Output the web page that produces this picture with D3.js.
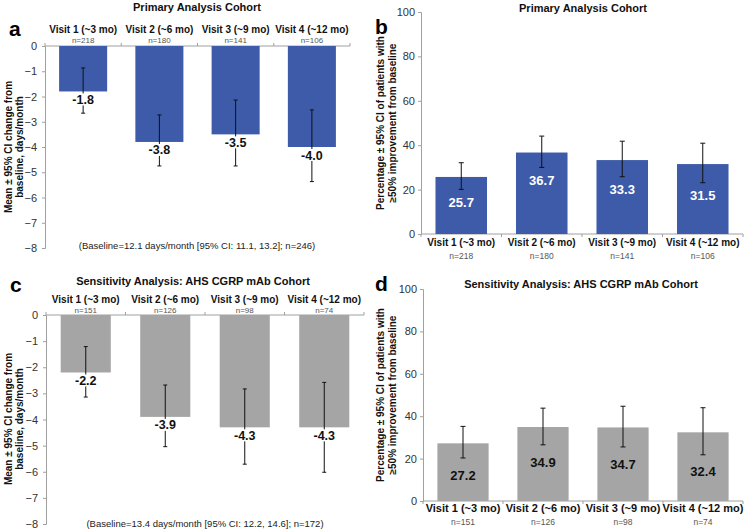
<!DOCTYPE html>
<html>
<head>
<meta charset="utf-8">
<script src="https://cdn.jsdelivr.net/npm/d3@7"></script>
<style>
    body { margin: 0; background: #fff; }
    svg { font-family: "Liberation Sans", Arial, sans-serif; }
</style>
</head>
<body>
<div id="chart"></div>
<script>
// 数据
const visits = ['Visit 1 (~3 mo)', 'Visit 2 (~6 mo)', 'Visit 3 (~9 mo)', 'Visit 4 (~12 mo)'];
const primaryN = [218, 180, 141, 106];
const sensN = [151, 126, 98, 74];

const primaryChange = [-1.8, -3.8, -3.5, -4.0];
const primaryChangeLo = [-2.66, -4.75, -4.75, -5.37];
const primaryChangeHi = [-0.87, -2.73, -2.14, -2.53];

const sensChange = [-2.2, -3.9, -4.3, -4.3];
const sensChangeLo = [-3.14, -5.04, -5.71, -6.02];
const sensChangeHi = [-1.21, -2.68, -2.83, -2.58];

const primaryPct = [25.7, 36.7, 33.3, 31.5];
const primaryPctLo = [20.1, 30.0, 25.8, 23.1];
const primaryPctHi = [32.1, 44.1, 41.8, 40.9];

const sensPct = [27.2, 34.9, 34.7, 32.4];
const sensPctLo = [20.3, 26.5, 25.5, 21.8];
const sensPctHi = [35.2, 43.8, 44.7, 44.0];

const changeTicks = [0, -1, -2, -3, -4, -5, -6, -7, -8];
const pctTicks = [0, 20, 40, 60, 80, 100];

const blue = '#3d5ba9';
const gray = '#a5a5a5';
const axisColor = '#a0a0a0';

const svg = d3.select('#chart').append('svg')
    .attr('width', 746)
    .attr('height', 530);

// 把几个数组拼成一组行
function rows(n, mean, lo, hi) {
    return visits.map((v, i) => ({visit: v, n: n[i], mean: mean[i], lo: lo[i], hi: hi[i]}));
}

function letter(t, x, y) {
    svg.append('text').attr('x', x).attr('y', y)
        .attr('font-size', 21).attr('font-weight', 'bold').text(t);
}

function title(t, x, y) {
    svg.append('text').attr('x', x).attr('y', y).attr('text-anchor', 'middle')
        .attr('font-size', 11).attr('font-weight', 'bold').attr('fill', '#111').text(t);
}

function yTitle(lines, x1, x2, cy) {
    [x1, x2].forEach((x, i) => {
        svg.append('text')
            .attr('transform', `translate(${x},${cy}) rotate(-90)`)
            .attr('text-anchor', 'middle')
            .attr('dominant-baseline', 'central')
            .attr('font-size', 10).attr('font-weight', 'bold').attr('fill', '#111')
            .text(lines[i]);
    });
}

function styleAxis(g) {
    g.select('.domain').attr('stroke', axisColor);
    g.selectAll('.tick line').attr('stroke', axisColor);
    g.selectAll('.tick text').attr('font-size', 11).attr('fill', '#333')
        .attr('font-family', '"Liberation Sans", Arial, sans-serif');
}

/*
 * 变化量面板 (a, c) —— 柱子向下
 */
function drawChange(cfg) {
    const data = rows(cfg.n, cfg.mean, cfg.lo, cfg.hi);
    const x = d3.scaleBand().domain(visits).range(cfg.xr).paddingInner(0.37).paddingOuter(0.185);
    const y = d3.scaleLinear().domain([0, -8]).range(cfg.yr);

    const ga = svg.append('g').attr('transform', `translate(${cfg.xr[0]},0)`)
        .call(d3.axisLeft(y).tickValues(changeTicks).tickFormat(d3.format('d')).tickSize(3).tickPadding(5));
    styleAxis(ga);

    // 顶部横轴 + 分隔刻度
    const top = svg.append('g');
    top.append('line').attr('x1', cfg.xr[0]).attr('x2', cfg.xr[1])
        .attr('y1', y(0)).attr('y2', y(0)).attr('stroke', axisColor);
    d3.range(5).forEach(i => {
        const bx = cfg.xr[0] + i * x.step();
        top.append('line').attr('x1', bx).attr('x2', bx)
            .attr('y1', y(0)).attr('y2', y(0) - 3).attr('stroke', axisColor);
    });

    svg.selectAll(null).data(data).enter().append('rect')
        .attr('x', d => x(d.visit))
        .attr('y', y(0))
        .attr('width', x.bandwidth())
        .attr('height', d => y(d.mean) - y(0))
        .attr('fill', cfg.color);

    // 误差线
    const eb = svg.selectAll(null).data(data).enter().append('g').attr('stroke', '#111').attr('stroke-width', 1);
    eb.append('line')
        .attr('x1', d => x(d.visit) + x.bandwidth() / 2).attr('x2', d => x(d.visit) + x.bandwidth() / 2)
        .attr('y1', d => y(d.hi)).attr('y2', d => y(d.lo));
    eb.append('line')
        .attr('x1', d => x(d.visit) + x.bandwidth() / 2 - 2).attr('x2', d => x(d.visit) + x.bandwidth() / 2 + 2)
        .attr('y1', d => y(d.lo)).attr('y2', d => y(d.lo));
    eb.append('line')
        .attr('x1', d => x(d.visit) + x.bandwidth() / 2 - 2).attr('x2', d => x(d.visit) + x.bandwidth() / 2 + 2)
        .attr('y1', d => y(d.hi)).attr('y2', d => y(d.hi));

    // 数值标签 (白底)
    data.forEach(d => {
        const cx = x(d.visit) + x.bandwidth() / 2;
        const cy = y(d.mean) + 8;
        svg.append('rect').attr('x', cx - 12).attr('y', cy - 6).attr('width', 24).attr('height', 12).attr('fill', '#fff');
        svg.append('text').attr('x', cx).attr('y', cy).attr('dy', '0.36em')
            .attr('text-anchor', 'middle').attr('font-size', 12.5).attr('font-weight', 'bold')
            .attr('fill', '#111').text(d.mean.toFixed(1));
    });

    // 类别标签
    data.forEach(d => {
        const cx = x(d.visit) + x.bandwidth() / 2;
        svg.append('text').attr('x', cx).attr('y', cfg.labelY).attr('text-anchor', 'middle')
            .attr('font-size', 10).attr('font-weight', 'bold').attr('fill', '#111').text(d.visit);
        svg.append('text').attr('x', cx).attr('y', cfg.labelY + 9.5).attr('text-anchor', 'middle')
            .attr('font-size', 8).attr('fill', '#555').text('n=' + d.n);
    });

    svg.append('text').attr('x', cfg.noteX).attr('y', cfg.noteY).attr('text-anchor', 'middle')
        .attr('font-size', 9.5).attr('fill', '#222').text(cfg.note);
}

/*
 * 百分比面板 (b, d)
 */
function drawPct(cfg) {
    const data = rows(cfg.n, cfg.mean, cfg.lo, cfg.hi);
    const x = d3.scaleBand().domain(visits).range(cfg.xr).paddingInner(0.36).paddingOuter(0.18);
    const y = d3.scaleLinear().domain([0, 100]).range(cfg.yr);

    const ga = svg.append('g').attr('transform', `translate(${cfg.xr[0]},0)`)
        .call(d3.axisLeft(y).tickValues(pctTicks).tickSize(3).tickPadding(3));
    styleAxis(ga);

    const bot = svg.append('g');
    bot.append('line').attr('x1', cfg.xr[0]).attr('x2', cfg.xr[1])
        .attr('y1', y(0)).attr('y2', y(0)).attr('stroke', axisColor);
    d3.range(5).forEach(i => {
        const bx = cfg.xr[0] + i * x.step();
        bot.append('line').attr('x1', bx).attr('x2', bx)
            .attr('y1', y(0)).attr('y2', y(0) + 3).attr('stroke', axisColor);
    });

    svg.selectAll(null).data(data).enter().append('rect')
        .attr('x', d => x(d.visit))
        .attr('y', d => y(d.mean))
        .attr('width', x.bandwidth())
        .attr('height', d => y(0) - y(d.mean))
        .attr('fill', cfg.color);

    const eb = svg.selectAll(null).data(data).enter().append('g').attr('stroke', '#111').attr('stroke-width', 1);
    eb.append('line')
        .attr('x1', d => x(d.visit) + x.bandwidth() / 2).attr('x2', d => x(d.visit) + x.bandwidth() / 2)
        .attr('y1', d => y(d.hi)).attr('y2', d => y(d.lo));
    eb.append('line')
        .attr('x1', d => x(d.visit) + x.bandwidth() / 2 - 2.5).attr('x2', d => x(d.visit) + x.bandwidth() / 2 + 2.5)
        .attr('y1', d => y(d.lo)).attr('y2', d => y(d.lo));
    eb.append('line')
        .attr('x1', d => x(d.visit) + x.bandwidth() / 2 - 2.5).attr('x2', d => x(d.visit) + x.bandwidth() / 2 + 2.5)
        .attr('y1', d => y(d.hi)).attr('y2', d => y(d.hi));

    svg.selectAll(null).data(data).enter().append('text')
        .attr('x', d => x(d.visit) + x.bandwidth() / 2)
        .attr('y', d => y(d.lo) + cfg.labelOff)
        .attr('dy', '0.36em')
        .attr('text-anchor', 'middle').attr('font-size', 13).attr('font-weight', 'bold')
        .attr('fill', cfg.labelColor)
        .text(d => d.mean.toFixed(1));

    data.forEach(d => {
        const cx = x(d.visit) + x.bandwidth() / 2;
        svg.append('text').attr('x', cx).attr('y', cfg.labelY).attr('text-anchor', 'middle')
            .attr('font-size', cfg.labelSize).attr('font-weight', 'bold').attr('fill', '#111').text(d.visit);
        svg.append('text').attr('x', cx).attr('y', cfg.labelY + 12.5).attr('text-anchor', 'middle')
            .attr('font-size', 8.5).attr('fill', '#555').text('n=' + d.n);
    });
}

// a
letter('a', 9, 36);
title('Primary Analysis Cohort', 197, 11);
yTitle(['Mean ± 95% CI change from', 'baseline, days/month'], 8, 19, 147);
drawChange({
    n: primaryN, mean: primaryChange, lo: primaryChangeLo, hi: primaryChangeHi,
    xr: [45, 350], yr: [46, 248], color: blue, labelY: 33,
    note: '(Baseline=12.1 days/month [95% CI: 11.1, 13.2]; n=246)', noteX: 197, noteY: 249
});

// b
letter('b', 375, 34);
title('Primary Analysis Cohort', 583, 12);
yTitle(['Percentage ± 95% CI of patients with', '≥50% improvement from baseline'], 380, 392, 123);
drawPct({
    n: primaryN, mean: primaryPct, lo: primaryPctLo, hi: primaryPctHi,
    xr: [421, 743], yr: [234, 12], color: blue, labelColor: '#fff', labelOff: 13, labelY: 246, labelSize: 10
});

// c
letter('c', 10, 292);
title('Sensitivity Analysis: AHS CGRP mAb Cohort', 193, 285);
yTitle(['Mean ± 95% CI change from', 'baseline, days/month'], 8, 19, 419);
drawChange({
    n: sensN, mean: sensChange, lo: sensChangeLo, hi: sensChangeHi,
    xr: [46, 364], yr: [315, 524], color: gray, labelY: 303,
    note: '(Baseline=13.4 days/month [95% CI: 12.2, 14.6]; n=172)', noteX: 205, noteY: 527
});

// d
letter('d', 375, 291);
title('Sensitivity Analysis: AHS CGRP mAb Cohort', 581, 288);
yTitle(['Percentage ± 95% CI of patients with', '≥50% improvement from baseline'], 380, 392, 395);
drawPct({
    n: sensN, mean: sensPct, lo: sensPctLo, hi: sensPctHi,
    xr: [423, 743], yr: [501, 289], color: gray, labelColor: '#111', labelOff: 17, labelY: 512, labelSize: 11
});
</script>
</body>
</html>
